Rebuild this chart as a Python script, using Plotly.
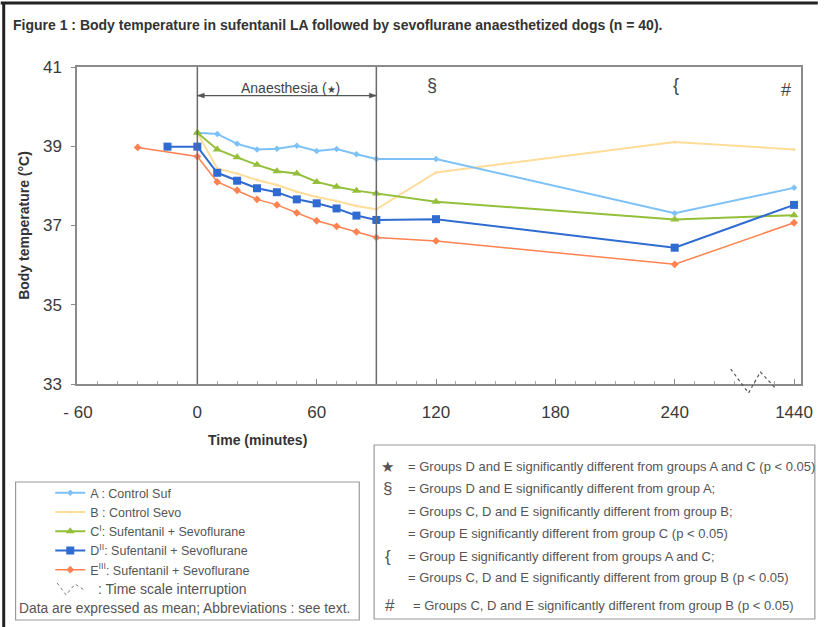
import plotly.graph_objects as go

# ---------------- data ----------------
# time axis: minutes; 1440 min is drawn at axis position 300 (time scale interruption)
time_pos_A = [0, 10, 20, 30, 40, 50, 60, 70, 80, 90, 120, 240, 300]
temp_A = [39.34, 39.31, 39.06, 38.92, 38.94, 39.01, 38.88, 38.93, 38.80, 38.68, 38.68, 37.31, 37.95]

time_pos_B = [0, 10, 20, 30, 40, 50, 60, 70, 80, 90, 120, 240, 300]
temp_B = [39.34, 38.44, 38.31, 38.15, 38.02, 37.85, 37.72, 37.62, 37.49, 37.41, 38.34, 39.11, 38.92]

time_pos_C = [0, 10, 20, 30, 40, 50, 60, 70, 80, 90, 120, 240, 300]
temp_C = [39.34, 38.92, 38.72, 38.53, 38.37, 38.31, 38.10, 37.98, 37.88, 37.81, 37.60, 37.15, 37.26]

time_pos_D = [-15, 0, 10, 20, 30, 40, 50, 60, 70, 80, 90, 120, 240, 300]
temp_D = [38.99, 38.99, 38.33, 38.13, 37.94, 37.84, 37.66, 37.56, 37.43, 37.25, 37.14, 37.16, 36.44, 37.52]

time_pos_E = [-30, 0, 10, 20, 30, 40, 50, 60, 70, 80, 90, 120, 240, 300]
temp_E = [38.97, 38.74, 38.10, 37.89, 37.66, 37.52, 37.32, 37.12, 36.98, 36.84, 36.70, 36.61, 36.02, 37.07]

series_names = [
    "A : Control Suf",
    "B : Control Sevo",
    "C<sup>I</sup>: Sufentanil + Sevoflurane",
    "D<sup>II</sup>: Sufentanil + Sevoflurane",
    "E<sup>III</sup>: Sufentanil + Sevoflurane",
]

x_tick_vals = [-60, 0, 60, 120, 180, 240, 300]
x_tick_text = ["- 60", "0", "60", "120", "180", "240", "1440"]
y_tick_vals = [33, 35, 37, 39, 41]

note_symbols = ["★", "§", "", "", "{", "", "#"]
note_lines = [
    "= Groups D and E significantly different from groups A and C (p &lt; 0.05)",
    "= Groups D and E significantly different from group A;",
    "= Groups C, D and E significantly different from group B;",
    "= Group E significantly different from group C (p &lt; 0.05)",
    "= Group E significantly different from groups A and C;",
    "= Groups C, D and E significantly different from group B (p &lt; 0.05)",
    "= Groups C, D and E significantly different from group B (p &lt; 0.05)",
]

# ---------------- layout helpers ----------------
W, H = 825, 627
L, R, T, B = 77, 17, 67, 243
PW, PH = W - L - R, H - T - B
FONT = "Arial, Liberation Sans, sans-serif"


def px(xp):
    return (xp - L) / PW


def py(yp):
    return (T + PH - yp) / PH


fig = go.Figure()

styles = [
    dict(color="#7DC1F7", symbol="diamond", size=5, width=2),
    dict(color="#FFDC98", symbol="circle", size=3, width=2),
    dict(color="#93BF3A", symbol="triangle-up", size=8, width=2),
    dict(color="#2F6BD0", symbol="square", size=8, width=2),
    dict(color="#FF8250", symbol="diamond", size=6, width=1.5),
]
xs = [time_pos_A, time_pos_B, time_pos_C, time_pos_D, time_pos_E]
ys = [temp_A, temp_B, temp_C, temp_D, temp_E]
# draw B first (underneath) but keep legend order via legendrank
draw_order = [1, 0, 2, 3, 4]
for i in draw_order:
    s = styles[i]
    fig.add_trace(go.Scatter(
        x=xs[i], y=ys[i], mode="lines+markers", name=series_names[i],
        line=dict(color=s["color"], width=s["width"]),
        marker=dict(color=s["color"], symbol=s["symbol"], size=s["size"]),
        legendrank=i + 1,
    ))

fig.update_xaxes(
    range=[-60.5, 303.5], tickvals=x_tick_vals, ticktext=x_tick_text,
    showgrid=False, zeroline=False, showline=True, linecolor="#8a8a8a", linewidth=1.5,
    mirror=True, ticks="inside", ticklen=5, tickcolor="#8a8a8a",
    minor=dict(dtick=10, ticks="inside", ticklen=3, tickcolor="#aaaaaa"),
    tickfont=dict(family=FONT, size=17, color="#3a3a3a"), ticklabelstandoff=12,
)
fig.update_yaxes(
    range=[33, 41], tickvals=y_tick_vals,
    showgrid=False, zeroline=False, showline=True, linecolor="#8a8a8a", linewidth=1.5,
    mirror=True, ticks="outside", ticklen=4, tickcolor="#8a8a8a",
    tickfont=dict(family=FONT, size=17, color="#3a3a3a"), ticklabelstandoff=6,
    title=dict(text="<b>Body temperature (°C)</b>", font=dict(family=FONT, size=14, color="#333"), standoff=10),
)

shapes = []
# anaesthesia boundaries
for xv in [0, 90]:
    shapes.append(dict(type="line", xref="x", yref="y domain", x0=xv, x1=xv, y0=0, y1=1,
                       line=dict(color="#6a6a6a", width=1.5)))
# double arrow for anaesthesia period
ya = 40.28
shapes.append(dict(type="line", xref="x", yref="y", x0=0, x1=90, y0=ya, y1=ya,
                   line=dict(color="#555", width=1.2)))
shapes.append(dict(type="path", xref="x", yref="y", path=f"M 0,{ya} L 3.5,{ya+0.06} L 3.5,{ya-0.06} Z",
                   fillcolor="#555", line=dict(color="#555", width=0.5)))
shapes.append(dict(type="path", xref="x", yref="y", path=f"M 90,{ya} L 86.5,{ya+0.06} L 86.5,{ya-0.06} Z",
                   fillcolor="#555", line=dict(color="#555", width=0.5)))
# time scale interruption zigzag (below axis)
zz = [(737, 369), (755, 393), (767, 372), (783, 389)]
path = "M " + " L ".join(f"{px(a):.4f},{py(b):.4f}" for a, b in zz)
shapes.append(dict(type="path", xref="paper", yref="paper", path=path,
                   line=dict(color="#555", width=1.2, dash="dot")))
# legend zigzag sample
zz2 = [(57, 583), (66, 595), (75, 584), (86, 591)]
path2 = "M " + " L ".join(f"{px(a):.4f},{py(b):.4f}" for a, b in zz2)
shapes.append(dict(type="path", xref="paper", yref="paper", path=path2,
                   line=dict(color="#777", width=1, dash="dot")))
# legend box
shapes.append(dict(type="rect", xref="paper", yref="paper", x0=px(15), x1=px(362), y0=py(620), y1=py(482),
                   line=dict(color="#9a9a9a", width=1.2)))
# notes box
shapes.append(dict(type="rect", xref="paper", yref="paper", x0=px(377), x1=px(822), y0=py(619), y1=py(445),
                   line=dict(color="#9a9a9a", width=1.2)))
# outer frame (top & left)
shapes.append(dict(type="line", xref="paper", yref="paper", x0=px(0), x1=px(825), y0=py(3), y1=py(3),
                   line=dict(color="#222", width=3)))
shapes.append(dict(type="line", xref="paper", yref="paper", x0=px(3), x1=px(3), y0=py(3), y1=py(627),
                   line=dict(color="#222", width=3)))

annotations = []
annotations.append(dict(x=47, y=40.48, xref="x", yref="y", text="Anaesthesia (<span style='font-size:10px'>★</span>)",
                        showarrow=False, font=dict(family=FONT, size=14, color="#444")))
for sym, xv, yv in [("§", 118, 40.55), ("{", 240.5, 40.55), ("#", 296, 40.42)]:
    annotations.append(dict(x=xv, y=yv, xref="x", yref="y", text=sym, showarrow=False,
                            font=dict(family=FONT, size=18, color="#444")))
# title
annotations.append(dict(x=px(10), y=py(25), xref="paper", yref="paper", xanchor="left", yanchor="middle",
                        text="<b>Figure 1 : Body temperature in sufentanil LA followed by sevoflurane anaesthetized dogs (n = 40).</b>",
                        showarrow=False, font=dict(family=FONT, size=14, color="#333")))
# x axis title
annotations.append(dict(x=px(259), y=py(440), xref="paper", yref="paper", xanchor="center", yanchor="middle",
                        text="<b>Time (minutes)</b>", showarrow=False, font=dict(family=FONT, size=14, color="#333")))
# legend extra lines
annotations.append(dict(x=px(96), y=py(589), xref="paper", yref="paper", xanchor="left", yanchor="middle",
                        text=": Time scale interruption", showarrow=False, font=dict(family=FONT, size=14, color="#555")))
annotations.append(dict(x=px(16), y=py(608), xref="paper", yref="paper", xanchor="left", yanchor="middle",
                        text="Data are expressed as mean; Abbreviations : see text.", showarrow=False,
                        font=dict(family=FONT, size=13.8, color="#555")))
# notes
note_y = [466, 488, 511, 533, 556, 577, 605]
for sym, line, yy in zip(note_symbols, note_lines, note_y):
    if sym:
        annotations.append(dict(x=px(391 if sym != "#" else 393), y=py(yy), xref="paper", yref="paper",
                                xanchor="center", yanchor="middle", text=sym, showarrow=False,
                                font=dict(family=FONT, size=17 if sym != "★" else 15, color="#555")))
    annotations.append(dict(x=px(409 if sym != "#" else 414), y=py(yy), xref="paper", yref="paper",
                            xanchor="left", yanchor="middle", text=line, showarrow=False,
                            font=dict(family=FONT, size=13, color="#555")))

fig.update_layout(
    width=W, height=H,
    margin=dict(l=L, r=R, t=T, b=B),
    paper_bgcolor="white", plot_bgcolor="white",
    shapes=shapes, annotations=annotations,
    showlegend=True,
    legend=dict(x=px(50), y=py(478), xanchor="left", yanchor="top",
                font=dict(family=FONT, size=12.5, color="#555"),
                bgcolor="rgba(0,0,0,0)", borderwidth=0, tracegroupgap=0),
    font=dict(family=FONT),
)

fig.write_html("out.html", config={"displayModeBar": False},
               post_script="document.body.style.margin='0';document.body.style.padding='0';")
